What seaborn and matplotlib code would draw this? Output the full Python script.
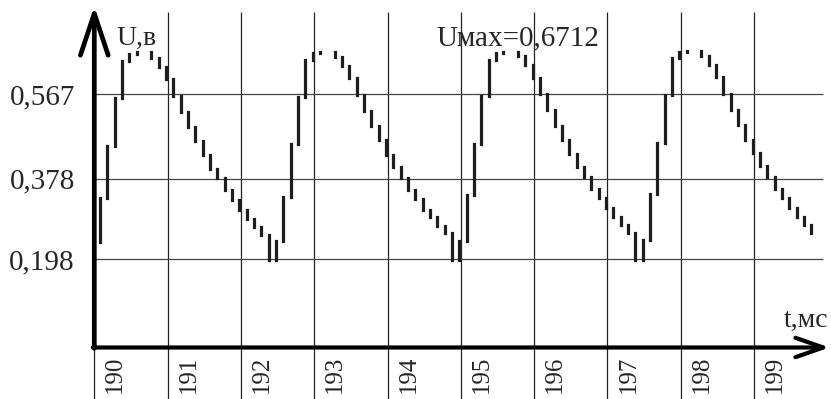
import numpy as np
import pandas as pd
import matplotlib
matplotlib.use('Agg')
import matplotlib.pyplot as plt
import matplotlib.transforms as mtransforms
import seaborn as sns

# ====================== DATA ======================
T0 = 189.98          # time of the first (starting) sample, ms
DT = 0.1             # sampling step, ms
u_start = [0.237]
cycle1 = [0.336, 0.451, 0.560, 0.642, 0.657, 0.662, 0.661, 0.648, 0.629, 0.601,
          0.563, 0.528, 0.493, 0.463, 0.431, 0.401, 0.379, 0.353, 0.330, 0.309,
          0.289, 0.270, 0.252, 0.196, 0.238]
cycle2 = [0.338, 0.456, 0.562, 0.645, 0.659, 0.662, 0.662, 0.651, 0.631, 0.603,
          0.566, 0.530, 0.496, 0.465, 0.431, 0.404, 0.379, 0.354, 0.332, 0.309,
          0.292, 0.272, 0.256, 0.197, 0.238]
cycle3 = [0.341, 0.456, 0.563, 0.645, 0.660, 0.663, 0.663, 0.653, 0.633, 0.603,
          0.568, 0.532, 0.496, 0.465, 0.433, 0.405, 0.382, 0.356, 0.334, 0.312,
          0.293, 0.274, 0.257, 0.197, 0.241]
cycle4 = [0.344, 0.459, 0.566, 0.648, 0.663, 0.664, 0.664, 0.653, 0.633, 0.605,
          0.568, 0.533, 0.498, 0.466, 0.435, 0.406, 0.382, 0.356, 0.334, 0.312,
          0.293, 0.274, 0.257]

x_ticks = [190, 191, 192, 193, 194, 195, 196, 197, 198, 199]
x_labels = ['190', '191', '192', '193', '194', '195', '196', '197', '198', '199']
y_ticks = [0.198, 0.378, 0.567]
y_labels = ['0,198', '0,378', '0,567']
u_max_text = 'Uмах=0,6712'

# ====================== Build segments ======================
u = np.array(u_start + cycle1 + cycle2 + cycle3 + cycle4)
t = T0 + DT * np.arange(len(u))
seg = pd.DataFrame({'t': t[1:], 'u_prev': u[:-1], 'u': u[1:]})

# ====================== Plot ======================
sns.set_theme(style='white')
plt.rcParams['font.family'] = ['Liberation Serif', 'DejaVu Serif']

fig = plt.figure(figsize=(8.31, 3.99), dpi=100)
px_per_ms = 73.3
px_per_v = 446.3
x0_px, y0_px = 94.3, 347.5
ax = fig.add_axes([x0_px / 831, (399 - y0_px) / 399, 1 - x0_px / 831, y0_px / 399])
ax.set_xlim(190, 190 + (831 - x0_px) / px_per_ms)
ax.set_ylim(0, y0_px / px_per_v)
for s in ax.spines.values():
    s.set_visible(False)
ax.grid(False)

# grid
ax.vlines(x_ticks, -0.125, 0.752, colors='#222222', lw=0.9, clip_on=False, zorder=1)
ax.hlines(y_ticks, 190, 199.94, colors='#444444', lw=0.9, zorder=1)

# waveform bars
ax.vlines(seg['t'], seg['u_prev'], seg['u'], colors='#1e1e1e', lw=2.3,
          capstyle='projecting', zorder=3)

# axes with arrows
ax.annotate('', xy=(190, 0.765), xytext=(190, -0.002), annotation_clip=False,
            arrowprops=dict(arrowstyle='->,head_length=3.0,head_width=1.0',
                            lw=3.4, color='black', mutation_scale=10,
                            shrinkA=0, shrinkB=0))
ax.annotate('', xy=(200.03, 0.0), xytext=(189.98, 0.0), annotation_clip=False,
            arrowprops=dict(arrowstyle='->,head_length=2.0,head_width=0.7',
                            lw=3.0, color='black', mutation_scale=10,
                            shrinkA=0, shrinkB=0))

# ticks
ax.set_yticks(y_ticks, y_labels)
ax.set_xticks(x_ticks, x_labels, rotation=90)
ax.tick_params(axis='y', length=0, pad=14, labelsize=21)
ax.tick_params(axis='x', length=0, pad=6, labelsize=18)
shift = mtransforms.ScaledTranslation(0.21, 0, fig.dpi_scale_trans)
for lab in ax.get_xticklabels():
    lab.set_verticalalignment('top')
    lab.set_horizontalalignment('center')
    lab.set_transform(lab.get_transform() + shift)

# texts
ax.text(190.3, 0.693, 'U,в', fontsize=20, ha='left', va='center')
ax.text(194.67, 0.693, u_max_text, fontsize=21, ha='left', va='center')
ax.text(200.02, 0.06, 't,мс', fontsize=20, ha='right', va='center')

fig.savefig('out.png', dpi=100)
plt.close(fig)
